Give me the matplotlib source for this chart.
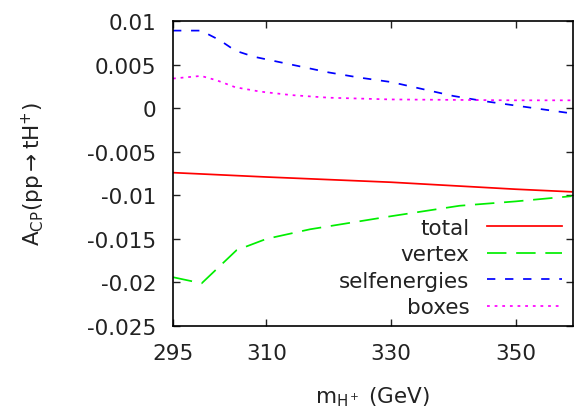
import matplotlib
matplotlib.use("Agg")
import matplotlib.pyplot as plt

plt.rcParams['font.family'] = ['DejaVu Sans']
plt.rcParams['axes.unicode_minus'] = False
plt.rcParams['lines.scale_dashes'] = False

# masses (GeV) and asymmetries
m_total = [295, 310, 330, 350, 359]
total = [-0.0074, -0.0079, -0.0085, -0.0093, -0.0096]

m_vertex = [295, 299.6, 305.2, 310, 317, 330, 341, 350, 359]
vertex = [-0.0194, -0.0201, -0.0163, -0.0150, -0.0139, -0.0124, -0.0112, -0.0107, -0.0101]

m_self = [295, 299.5, 302.5, 305, 308, 312, 316, 320, 325, 330, 335, 340, 345, 350, 355, 359]
selfen = [0.0089, 0.0089, 0.0078, 0.0066, 0.0059, 0.0053, 0.0047, 0.0041, 0.0035, 0.0030,
          0.0022, 0.0014, 0.0008, 0.0003, -0.0002, -0.0006]

m_boxes = [295, 299.5, 302, 305, 309, 314, 320, 325, 330, 340, 350, 359]
boxes = [0.0034, 0.0037, 0.0032, 0.0024, 0.0019, 0.0015, 0.0012, 0.0011, 0.0010, 0.00095, 0.0009, 0.0009]

xticks = [295, 310, 330, 350]
yticks = [-0.025, -0.02, -0.015, -0.01, -0.005, 0, 0.005, 0.01]
ytick_labels = ["-0.025", "-0.02", "-0.015", "-0.01", "-0.005", "0", "0.005", "0.01"]

fig = plt.figure(figsize=(5.74, 4.10), dpi=100)
ax = fig.add_axes([0.3014, 0.2024, 0.6966, 0.7439])

lw = 1.25
ax.plot(m_total, total, color='#ff0000', lw=lw, label='total')
ax.plot(m_vertex, vertex, color='#00ee00', lw=lw, dashes=(14, 7), label='vertex')
ax.plot(m_self, selfen, color='#0000ff', lw=lw, dashes=(6, 7), label='selfenergies')
ax.plot(m_boxes, boxes, color='#ff00ff', lw=lw, dashes=(2, 3.5), label='boxes')

ax.set_xlim(295, 359.2)
ax.set_ylim(-0.025, 0.01)
ax.set_xticks(xticks, [str(t) for t in xticks])
ax.set_yticks(yticks, ytick_labels)
ax.tick_params(direction='in', length=5, width=1, top=True, right=True,
               labelsize=15.5, pad=12, colors='#222222')
for s in ax.spines.values():
    s.set_linewidth(1.2)

ax.set_xlabel(r'm$_{\mathregular{H^+}}$ (GeV)', fontsize=15.5, color='#222222')
ax.set_ylabel(r'A$_{\mathregular{CP}}$(pp$\rightarrow$tH$^{\mathregular{+}}$)', fontsize=15.5, color='#222222')
ax.xaxis.set_label_coords(0.5, -0.19)
ax.yaxis.set_label_coords(-0.315, 0.5)

ax.legend(loc='lower right', frameon=False, markerfirst=False, fontsize=15.5,
          handlelength=3.5, handletextpad=0.8, labelspacing=0.3,
          borderaxespad=0.0, bbox_to_anchor=(0.995, 0.0), labelcolor='#222222')

fig.savefig('out.png', dpi=100)
